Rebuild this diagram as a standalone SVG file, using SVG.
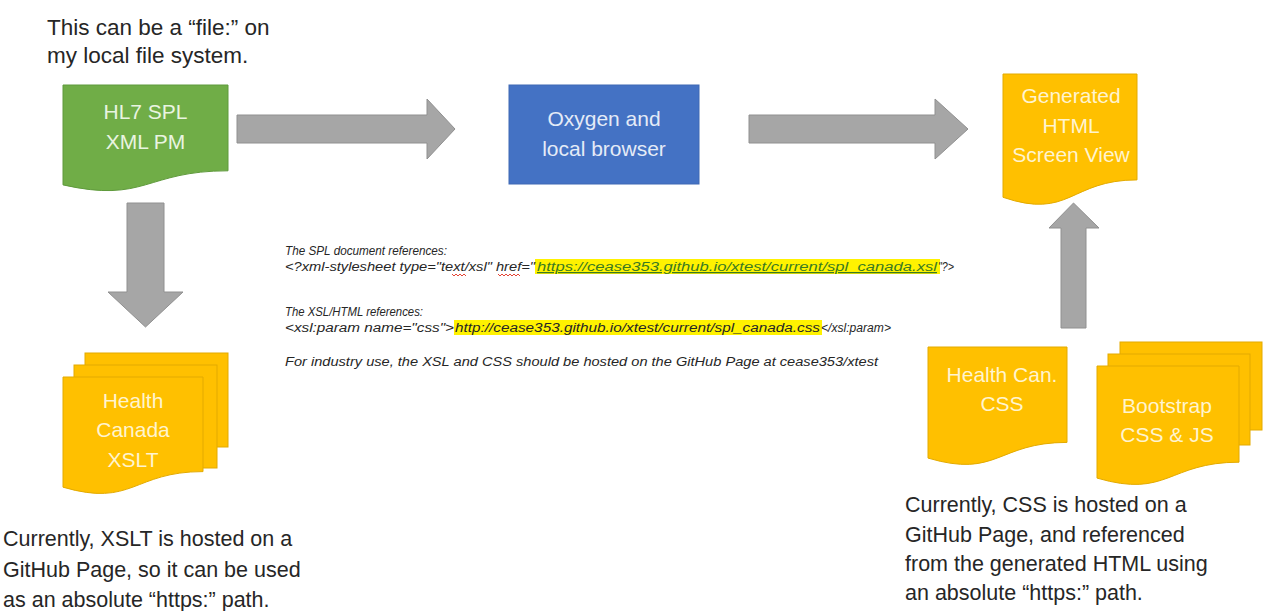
<svg xmlns="http://www.w3.org/2000/svg" width="1270" height="611" viewBox="0 0 1270 611">
<defs>
<style>
.note{font-family:"Liberation Sans",Arial,sans-serif;fill:#262626}
.big{font-size:21.5px}
.lbl{font-family:"Liberation Sans",Arial,sans-serif;font-size:21px;text-anchor:middle}
.ital{font-family:"Liberation Sans",Arial,sans-serif;font-size:12.5px;font-style:italic;fill:#262626}
.arrow{fill:#a6a6a6;stroke:#909090;stroke-width:1}
.green{fill:#70ad47;stroke:#5f9a3c;stroke-width:1}
.blue{fill:#4472c4;stroke:#3f69b4;stroke-width:1}
.orange{fill:#ffc000;stroke:#e3aa00;stroke-width:1}
.tg{fill:#e9f4e1}
.tb{fill:#e4ebf7}
.to{fill:#fff4cf}
.hl{fill:#fff200}
.sq{fill:none;stroke:#e0301e;stroke-width:0.9}
</style>
</defs>

<g id="note-top">
<text class="note" font-size="22.5" x="47" y="35">This can be a “file:” on</text>
<text class="note" font-size="22.5" x="47" y="63">my local file system.</text>
</g>

<g id="connectors">
<polygon class="arrow" points="237,115 427,115 427,99 455,129 427,159 427,143 237,143"/>
<polygon class="arrow" points="749,115 935,115 935,99 968,129 935,159 935,143 749,143"/>
<polygon class="arrow" points="127,203 164,203 164,292 183,292 145.5,327 108,292 127,292"/>
<polygon class="arrow" points="1061,328 1086,328 1086,228 1099,228 1073.5,203 1049,228 1061,228"/>
</g>

<g id="node-hl7">
<path class="green" d="M63,85 H228 V170.8 C145.5,170.8 145.5,203.5 63,184.9 Z"/>
<text class="lbl tg" x="145.5" y="119" font-size="20">HL7 SPL</text>
<text class="lbl tg" x="145.5" y="149" font-size="20">XML PM</text>
</g>

<g id="node-oxygen">
<rect class="blue" x="509" y="85" width="190" height="99"/>
<text class="lbl tb" x="604" y="126">Oxygen and</text>
<text class="lbl tb" x="604" y="156">local browser</text>
</g>

<g id="node-generated">
<path class="orange" d="M1003,74 H1137 V179.9 C1070,179.9 1070,220.1 1003,197.3 Z"/>
<text class="lbl to" x="1071" y="103">Generated</text>
<text class="lbl to" x="1071" y="133">HTML</text>
<text class="lbl to" x="1071" y="162">Screen View</text>
</g>

<g id="node-xslt">
<rect class="orange" x="85" y="353" width="143" height="94"/>
<rect class="orange" x="74" y="365" width="143" height="103"/>
<path class="orange" d="M63,377 H203 V471.6 C133,471.6 133,507.6 63,487.2 Z"/>
<text class="lbl to" x="133" y="408">Health</text>
<text class="lbl to" x="133" y="437">Canada</text>
<text class="lbl to" x="133" y="467">XSLT</text>
</g>

<g id="node-hccss">
<path class="orange" d="M928,347 H1067 V442.4 C997.5,442.4 997.5,478.7 928,458.1 Z"/>
<text class="lbl to" x="1002" y="382">Health Can.</text>
<text class="lbl to" x="1002" y="411">CSS</text>
</g>

<g id="node-bootstrap">
<rect class="orange" x="1120" y="342" width="142" height="88"/>
<rect class="orange" x="1108" y="354" width="142" height="91"/>
<path class="orange" d="M1097,366 H1239 V462.2 C1168,462.2 1168,498.8 1097,478.1 Z"/>
<text class="lbl to" x="1167" y="413">Bootstrap</text>
<text class="lbl to" x="1167" y="442">CSS &amp; JS</text>
</g>

<g id="note-middle">
<rect class="hl" x="535" y="259" width="405" height="15"/>
<rect class="hl" x="454" y="320" width="368" height="15"/>
<text class="ital" x="285" y="255" textLength="162" lengthAdjust="spacingAndGlyphs">The SPL document references:</text>
<text class="ital" x="285" y="271" textLength="250" lengthAdjust="spacingAndGlyphs">&lt;?xml-stylesheet type="text/xsl" href="</text>
<text class="ital" x="537" y="271" textLength="400" lengthAdjust="spacingAndGlyphs" style="fill:#3a7a23" text-decoration="underline">https://cease353.github.io/xtest/current/spl_canada.xsl</text>
<text class="ital" x="938" y="271" textLength="16" lengthAdjust="spacingAndGlyphs">"?&gt;</text>
<path class="sq" d="M452,274 l2,2 l2,-2 l2,2 l2,-2 l2,2 l2,-2 l2,2"/>
<path class="sq" d="M498,274 l2,2 l2,-2 l2,2 l2,-2 l2,2 l2,-2 l2,2 l2,-2 l2,2 l2,-2 l2,2"/>
<text class="ital" x="285" y="316" textLength="138" lengthAdjust="spacingAndGlyphs">The XSL/HTML references:</text>
<text class="ital" x="285" y="332" textLength="169" lengthAdjust="spacingAndGlyphs">&lt;xsl:param name="css"&gt;</text>
<text class="ital" x="455" y="332" textLength="365" lengthAdjust="spacingAndGlyphs">http://cease353.github.io/xtest/current/spl_canada.css</text>
<text class="ital" x="821" y="332" textLength="70" lengthAdjust="spacingAndGlyphs">&lt;/xsl:param&gt;</text>
<text class="ital" x="285" y="366" textLength="593" lengthAdjust="spacingAndGlyphs">For industry use, the XSL and CSS should be hosted on the GitHub Page at cease353/xtest</text>
</g>

<g id="note-bottom-left">
<text class="note big" x="3" y="546">Currently, XSLT is hosted on a</text>
<text class="note big" x="3" y="577">GitHub Page, so it can be used</text>
<text class="note big" x="3" y="607">as an absolute “https:” path.</text>
</g>

<g id="note-bottom-right">
<text class="note big" x="905" y="512">Currently, CSS is hosted on a</text>
<text class="note big" x="905" y="542">GitHub Page, and referenced</text>
<text class="note big" x="905" y="571">from the generated HTML using</text>
<text class="note big" x="905" y="600">an absolute “https:” path.</text>
</g>
</svg>
